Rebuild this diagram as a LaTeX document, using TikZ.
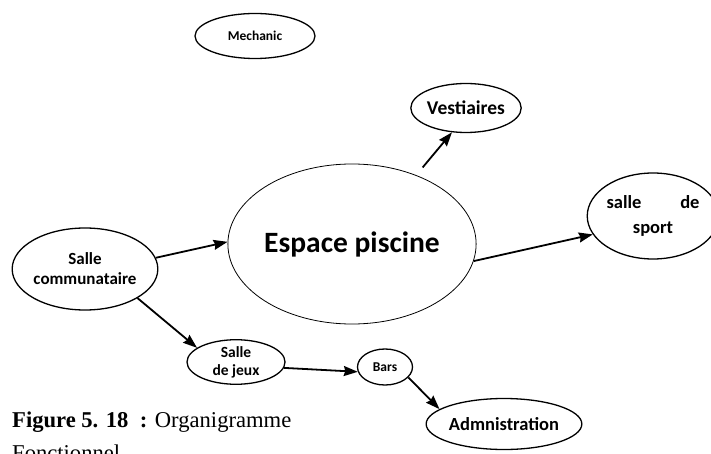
\documentclass[tikz,border=0pt]{standalone}
\usepackage{fontspec}
\setmainfont{Liberation Serif}
\newfontfamily\carlito{Carlito}
\usetikzlibrary{arrows.meta,shapes.geometric}

\begin{document}
\begin{tikzpicture}[x=1pt,y=-1pt,
  bubble/.style 2 args={draw,ellipse,line width=1.3pt,inner sep=0pt,align=center,
    minimum width=#1,minimum height=#2},
  flow/.style={-{Stealth[length=14pt,width=10pt,inset=1.5pt]},line width=1.8pt}]
  \clip (0,0) rectangle (711,454);
  % bubbles
  \node[bubble={120pt}{45pt},font=\carlito\bfseries\fontsize{13.5}{16}\selectfont] (mech) at (255,36) {Mechanic};
  \node[bubble={200pt}{160pt},line width=0.8pt,font=\carlito\bfseries\fontsize{29.5}{34}\selectfont] (piscine) at (352,244) {Espace piscine};
  \node[bubble={100pt}{49pt},font=\carlito\bfseries\fontsize{19.5}{22}\selectfont] (vest) at (466,108) {Vestiaires};
  \node[bubble={116pt}{86pt},font=\carlito\bfseries\fontsize{18.5}{25}\selectfont] (sport) at (653,216) {\makebox[93pt][s]{salle\hfill de}\\sport};
  \node[bubble={144pt}{82pt},font=\carlito\bfseries\fontsize{17}{20}\selectfont] (comm) at (85,269) {Salle\\communataire};
  \node[bubble={98pt}{42pt},font=\carlito\bfseries\fontsize{15.5}{18}\selectfont] (jeux) at (236,362) {Salle\\de jeux};
  \node[bubble={55pt}{36pt},font=\carlito\bfseries\fontsize{13.5}{15}\selectfont] (bars) at (385,367) {\raisebox{-6pt}{Bars}};
  \node[bubble={135pt}{51pt},font=\carlito\bfseries\fontsize{18.5}{21}\selectfont] (admin) at (504,424) {Admnistration};
  % connectors
  \draw[flow] (comm.9) -- (piscine.179);
  \draw[flow] (piscine.-8) -- (sport.197);
  \draw[flow,shorten <=10pt] (piscine.47) -- (vest.240);
  \draw[flow] (comm.-29) -- (jeux.160);
  \draw[flow] (jeux.-7) -- (bars.190);
  \draw[flow] (bars.-24) -- (admin.167);
  % caption
  \node[anchor=base west,inner sep=0pt,font=\fontsize{22.6}{27}\selectfont] (cap1) at (12,427) {\textbf{Figure 5. 18 \ :} Organigramme};
  \node[anchor=base west,inner sep=0pt,font=\fontsize{22.6}{27}\selectfont] (cap2) at (12,460) {Fonctionnel};
\end{tikzpicture}
\end{document}
